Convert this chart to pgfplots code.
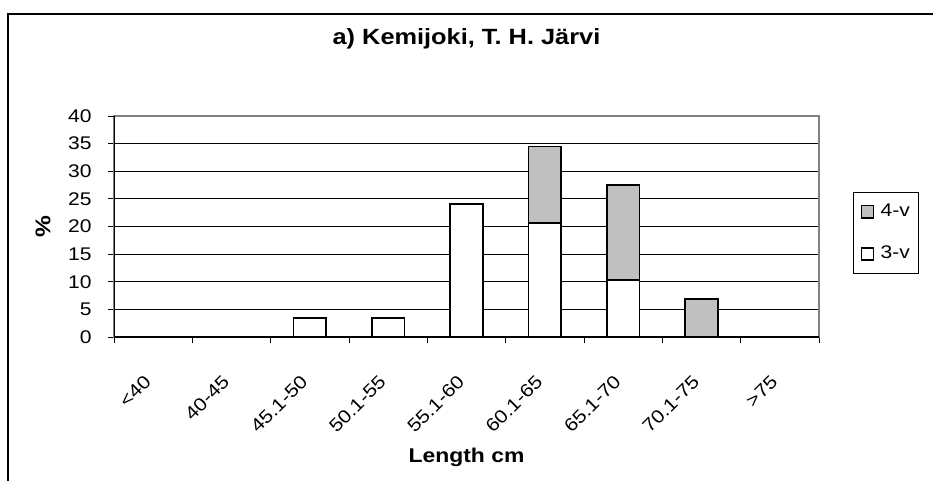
\documentclass[border=0pt]{standalone}
\usepackage{fontspec}
\setmainfont[FakeStretch=1.15]{Liberation Sans}
\usepackage{pgfplots}
\pgfplotsset{compat=1.18}
\definecolor{barfill}{HTML}{C0C0C0}
\definecolor{boxgray}{HTML}{808080}
\begin{document}
\begin{tikzpicture}
\useasboundingbox (0,0) rectangle (524.81pt,-270.56pt);
\fill[white] (0,0) rectangle (524.81pt,-270.56pt);
\draw[line width=0.8pt] (4.5pt,-300pt) -- (4.5pt,-7.875pt) -- (560pt,-7.875pt);
\begin{axis}[
  at={(64.125pt,-189.5625pt)}, anchor=south west,
  scale only axis, width=396.56pt, height=124.31pt,
  ybar stacked, bar width=18.34pt,
  xmin=-0.5, xmax=8.5, ymin=0, ymax=40,
  xtick={0,...,8},
  xticklabels={<40,40-45,45.1-50,50.1-55,55.1-60,60.1-65,65.1-70,70.1-75,>75},
  minor xtick={-0.5,0.5,...,8.5},
  ytick={0,5,...,35},
  extra y ticks={40}, extra y tick style={grid=none},
  tick align=outside, tick pos=left,
  major tick length=3.4pt, minor tick length=3.4pt,
  major x tick style={draw=none},
  minor x tick style={black, line width=0.5pt},
  ytick style={black, line width=0.5pt},
  ymajorgrids, grid style={black, line width=0.55pt},
  axis line style={boxgray, line width=0.8pt},
  /pgf/number format/assume math mode=true,
  tick label style={font=\fontsize{10.3}{12}\selectfont},
  yticklabel style={anchor=east, inner sep=0pt, xshift=-9pt},
  xticklabel style={inner sep=0pt, xshift=-3pt, yshift=-20pt, rotate=45, anchor=east},
  title={a) Kemijoki, T. H. Järvi},
  title style={at={(axis description cs:0.5,1.276)}, anchor=base, font=\bfseries\fontsize{12.4}{14}\selectfont},
  xlabel={Length cm},
  xlabel style={at={(axis description cs:0.5,-0.5701)}, anchor=base, font=\bfseries\fontsize{11.2}{14}\selectfont},
  ylabel={\%},
  ylabel style={at={(axis description cs:-0.1007,0.5)}, anchor=center, font=\bfseries\fontsize{12}{14}\selectfont},
  reverse legend,
  legend image code/.code={\draw[#1] (0pt,-3.4pt) rectangle (6.8pt,3.4pt); \path (9.3pt,0pt);},
  legend style={at={(axis description cs:1.0482,0.6561)}, anchor=north west,
    draw=black, line width=0.5pt, font=\fontsize{10.3}{12}\selectfont,
    inner xsep=4pt, inner ysep=5.5pt, row sep=13pt,
    nodes={inner sep=1pt},
    cells={anchor=west}},
]
\addplot[fill=white, draw=black, line width=1pt] coordinates {
  (0,0) (1,0) (2,3.4) (3,3.4) (4,24.1) (5,20.7) (6,10.3) (7,0) (8,0)};
\addlegendentry{3-v}
\addplot[fill=barfill, draw=black, line width=1pt] coordinates {
  (0,0) (1,0) (2,0) (3,0) (4,0) (5,13.8) (6,17.2) (7,6.9) (8,0)};
\addlegendentry{4-v}
\draw[black, line width=0.8pt] (rel axis cs:0,1) -- (rel axis cs:0,0) -- (rel axis cs:1,0);
\end{axis}
\end{tikzpicture}
\end{document}
